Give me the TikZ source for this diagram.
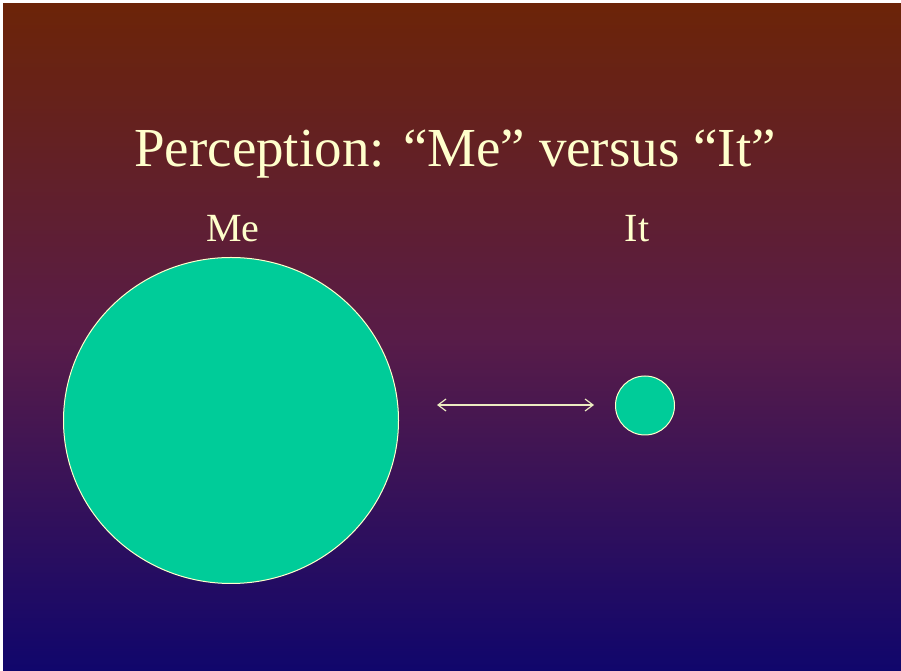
\documentclass[tikz,border=0pt]{standalone}
\usepackage{fontspec}
\setmainfont{Liberation Serif}
\usetikzlibrary{arrows.meta,shapes.geometric}
\definecolor{topc}{RGB}{108,36,8}
\definecolor{midc}{RGB}{88,28,72}
\definecolor{botc}{RGB}{16,6,108}
\definecolor{cream}{RGB}{255,255,204}
\definecolor{disc}{RGB}{0,204,153}
\tikzset{
  label text/.style={text=cream, font=\fontsize{40}{44}\selectfont, inner sep=0pt},
  ball/.style={ellipse, fill=disc, draw=cream, line width=1pt, inner sep=0pt},
}
\begin{document}
\begin{tikzpicture}[x=1pt,y=1pt]
\useasboundingbox (0,0) rectangle (901,671);
\fill[white] (0,0) rectangle (901,671);
\shade[top color=topc, bottom color=botc, middle color=midc] (3,0) rectangle (901,667);
\node[text=cream, font=\fontsize{55}{60}\selectfont, inner sep=0pt] (title) at (455,517) {Perception: “Me” versus “It”};
\node[label text] (me) at (233,442) {Me};
\node[label text] (it) at (637,442) {It};
\node[ball, minimum width=335pt, minimum height=326pt] (big) at (231,250.5) {};
\node[ball, minimum width=59pt, minimum height=59pt] (small) at (645,265.5) {};
\coordinate (al) at (437,266);
\coordinate (ar) at (594,266);
\draw[cream!85!gray, line width=1.2pt, {Straight Barb[length=8pt,width=12pt]}-{Straight Barb[length=8pt,width=12pt]}] (al) -- (ar);
\end{tikzpicture}
\end{document}
